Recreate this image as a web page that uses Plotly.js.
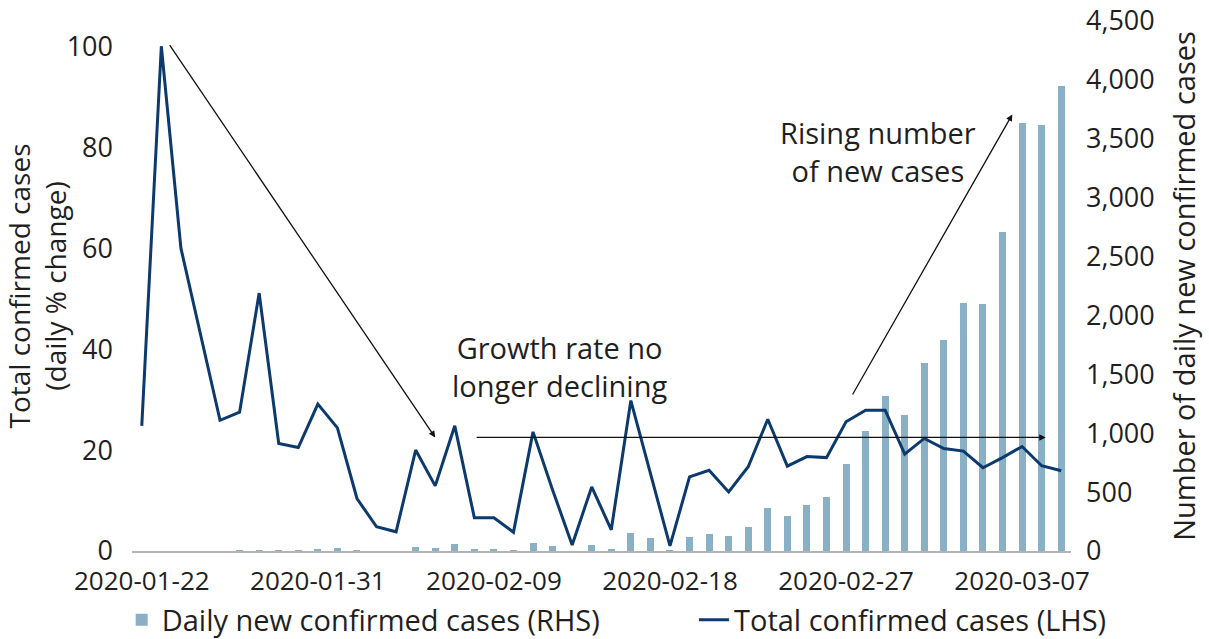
<!DOCTYPE html>
<html>
<head>
<meta charset="utf-8">
<script src="https://cdn.plot.ly/plotly-3.0.1.min.js"></script>
<style>html,body{margin:0;padding:0;background:#fff;}#chart{width:1209px;height:639px;}</style>
</head>
<body>
<div id="chart"></div>
<script>
const dates = [
  "2020-01-22","2020-01-23","2020-01-24","2020-01-25","2020-01-26","2020-01-27","2020-01-28","2020-01-29","2020-01-30","2020-01-31",
  "2020-02-01","2020-02-02","2020-02-03","2020-02-04","2020-02-05","2020-02-06","2020-02-07","2020-02-08","2020-02-09","2020-02-10",
  "2020-02-11","2020-02-12","2020-02-13","2020-02-14","2020-02-15","2020-02-16","2020-02-17","2020-02-18","2020-02-19","2020-02-20",
  "2020-02-21","2020-02-22","2020-02-23","2020-02-24","2020-02-25","2020-02-26","2020-02-27","2020-02-28","2020-02-29","2020-03-01",
  "2020-03-02","2020-03-03","2020-03-04","2020-03-05","2020-03-06","2020-03-07","2020-03-08","2020-03-09"
];
// Total confirmed cases, daily % change (LHS)
const totalPctChange = [
  24.8,100,60.0,42.8,25.9,27.5,51.1,21.3,20.5,29.1,
  24.4,10.4,4.8,3.8,20.0,12.9,24.8,6.6,6.6,3.7,
  23.6,12.1,1.2,12.7,4.2,29.8,15.4,1.0,14.7,16.0,
  11.7,16.7,26.1,16.8,18.7,18.5,25.6,27.9,27.9,19.2,
  22.3,20.3,19.8,16.5,18.5,20.7,16.9,15.9
];
// Daily new confirmed cases (RHS)
const dailyNewCases = [
  1,0,2,4,4,6,12,8,8,20,
  22,8,4,2,38,28,60,14,14,8,
  71,42,2,54,14,153,108,5,116,144,
  124,201,365,297,388,455,739,1021,1316,1155,
  1599,1791,2103,2097,2711,3636,3617,3948
];
const xTickStart = "2020-01-22";
const leftTicks = [0,20,40,60,80,100];
const rightTicks = [0,500,1000,1500,2000,2500,3000,3500,4000,4500];

const FONT = "Open Sans, Noto Sans, sans-serif";
const TXT = "#1f1f1f";
const DAY = 86400000;
const TEXT_SIZE = 29;

const traces = [
  {
    type: "bar", x: dates, y: dailyNewCases, yaxis: "y",
    name: "Daily new confirmed cases (RHS)", legend: "legend",
    marker: {color: "#89B0C4"}, width: 0.36 * DAY
  },
  {
    type: "scatter", mode: "lines", x: dates, y: totalPctChange, yaxis: "y2",
    name: "Total confirmed cases (LHS)", legend: "legend2",
    line: {color: "#0D3A6C", width: 3}
  }
];

const legendCommon = {
  orientation: "h", xanchor: "left", y: -0.13, yanchor: "middle",
  font: {family: FONT, size: TEXT_SIZE, color: TXT}, bgcolor: "rgba(0,0,0,0)"
};

function note(x, y, text) {
  return {xref: "x", yref: "y2", x: x, y: y, text: text, showarrow: false,
          xanchor: "center", yanchor: "middle", align: "center",
          font: {family: FONT, size: TEXT_SIZE, color: TXT}};
}

const layout = {
  width: 1209, height: 639,
  margin: {l: 132, r: 138, t: 21, b: 88, autoexpand: false},
  paper_bgcolor: "#fff", plot_bgcolor: "#fff",
  font: {family: FONT, size: 26, color: TXT},
  showlegend: true,
  legend: Object.assign({x: -0.011}, legendCommon),
  legend2: Object.assign({x: 0.5985}, legendCommon),
  bargap: 0,
  xaxis: {
    type: "date",
    range: ["2020-01-21 12:00", "2020-03-09 12:00"],
    tick0: xTickStart, dtick: 9 * DAY, tickformat: "%Y-%m-%d",
    showgrid: false, zeroline: false,
    showline: true, linecolor: "#B4B4B4", linewidth: 1.5,
    ticks: "", ticklabelstandoff: 6,
    tickfont: {family: FONT, size: 26, color: TXT}
  },
  yaxis: {
    side: "right", range: [0, 4500], tickvals: rightTicks,
    tickformat: ",", showgrid: false, zeroline: false, showline: false, ticks: "",
    ticklabelstandoff: 14,
    tickfont: {family: FONT, size: 27, color: TXT},
    title: {text: "Number of daily new confirmed cases", font: {family: FONT, size: TEXT_SIZE, color: TXT}, standoff: 20}
  },
  yaxis2: {
    side: "left", overlaying: "y", range: [0, 105], tickvals: leftTicks,
    showgrid: false, zeroline: false, showline: false, ticks: "",
    ticklabelstandoff: 18,
    tickfont: {family: FONT, size: 27, color: TXT},
    title: {text: "Total confirmed cases<br>(daily % change)", font: {family: FONT, size: 28, color: TXT}, standoff: 8}
  },
  annotations: [
    {xref: "x", yref: "y2", axref: "x", ayref: "y2",
     x: "2020-02-06", y: 22.5, ax: "2020-01-23 09:00", ay: 100.5,
     text: "", showarrow: true, arrowhead: 2, arrowsize: 1, arrowwidth: 1.3, arrowcolor: "#111"},
    {xref: "x", yref: "y2", axref: "x", ayref: "y2",
     x: "2020-03-08 05:00", y: 22.5, ax: "2020-02-08 01:00", ay: 22.5,
     text: "", showarrow: true, arrowhead: 2, arrowsize: 1, arrowwidth: 1.3, arrowcolor: "#111"},
    {xref: "x", yref: "y2", axref: "x", ayref: "y2",
     x: "2020-03-06 12:00", y: 86.5, ax: "2020-02-27 07:00", ay: 30.7,
     text: "", showarrow: true, arrowhead: 2, arrowsize: 1, arrowwidth: 1.3, arrowcolor: "#111"},
    note("2020-02-12 09:00", 36.6, "Growth rate no<br>longer declining"),
    note("2020-02-28 15:00", 79.1, "Rising number<br>of new cases")
  ]
};

Plotly.newPlot("chart", traces, layout, {displayModeBar: false, staticPlot: true});
</script>
</body>
</html>
